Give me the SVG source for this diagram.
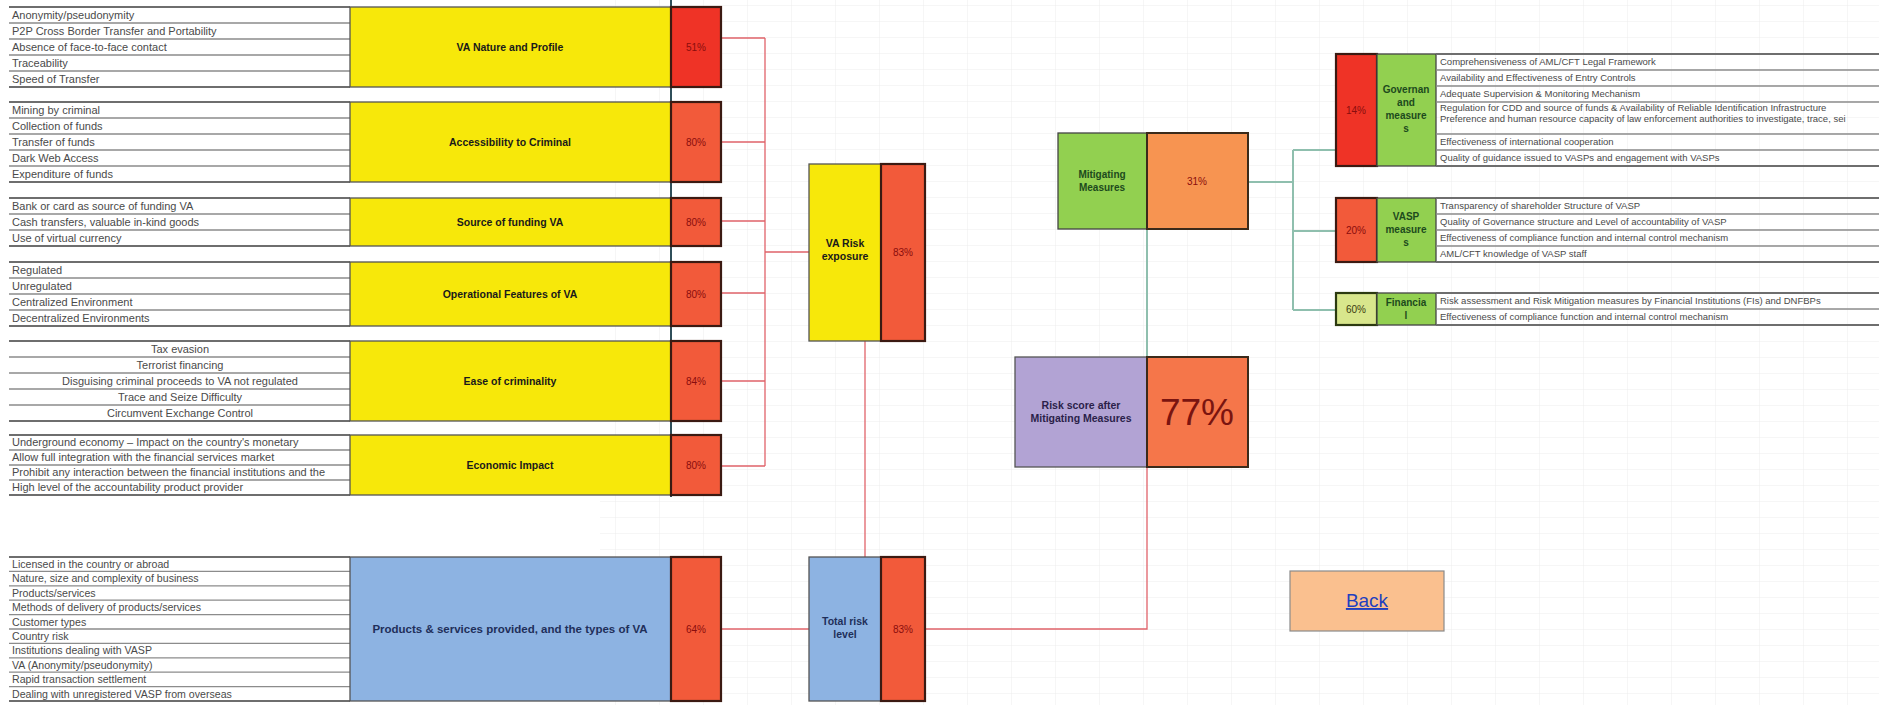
<svg xmlns="http://www.w3.org/2000/svg" width="1879" height="705" viewBox="0 0 1879 705">
  <defs>
    <!-- faint worksheet cell grid -->
    <pattern id="cells" x="0" y="6" width="44" height="16" patternUnits="userSpaceOnUse">
      <path d="M44 0V16M0 16H44" fill="none" stroke="#ececec" stroke-width="1"/>
    </pattern>
    <style>
      .lst { font-family: "Liberation Sans", Arial, sans-serif; font-size: 11px; fill: #4a4a4a; }
      .lsts { font-family: "Liberation Sans", Arial, sans-serif; font-size: 10.6px; fill: #4a4a4a; }
      .rt { font-family: "Liberation Sans", Arial, sans-serif; font-size: 9.5px; fill: #4a4a4a; }
      .row { stroke: #8c8c8c; stroke-width: 1.3; }
      .edge { stroke: #6e6e6e; stroke-width: 2; }
      .cat { font-family: "Liberation Sans", Arial, sans-serif; font-size: 10.5px; font-weight: bold; fill: #1a1a1a; text-anchor: middle; }
      .catb { font-family: "Liberation Sans", Arial, sans-serif; font-size: 10.5px; font-weight: bold; fill: #1f2f5a; text-anchor: middle; }
      .big { font-size: 11.5px; }
      .pct { font-family: "Liberation Sans", Arial, sans-serif; font-size: 10px; fill: #8a0d0d; text-anchor: middle; }
      .yel { fill: #f7e80a; stroke: #555; stroke-width: 1.3; }
      .blu { fill: #8db3e2; stroke: #555; stroke-width: 1.3; }
      .grn { fill: #92d050; stroke: #444; stroke-width: 1.3; }
      .red { fill: #f25a3a; stroke: #3b1a12; stroke-width: 2.2; }
      .red1 { fill: #ef3326; stroke: #3b1a12; stroke-width: 2.2; }
      .org { fill: #f79451; stroke: #3b2a1a; stroke-width: 2; }
      .org2 { fill: #f5764a; stroke: #3b2a1a; stroke-width: 2; }
      .pur { fill: #b2a3d4; stroke: #555; stroke-width: 1.3; }
      .gtx { font-family: "Liberation Sans", Arial, sans-serif; font-size: 10px; font-weight: bold; fill: #1d4a1d; text-anchor: middle; }
      .rl { fill: none; stroke: #e0636a; stroke-width: 1.3; }
      .gl { fill: none; stroke: #8fbfae; stroke-width: 2; }
    </style>
  </defs>

  <rect width="1879" height="705" fill="#ffffff"/>
  <rect x="600" y="0" width="1279" height="705" fill="url(#cells)"/>

  <!-- dark column border beside the category cells -->
  <line x1="671" y1="0" x2="671" y2="497" stroke="#2f4f5a" stroke-width="2"/>

  <!-- connectors -->
  <g id="connectors">
    <path class="rl" d="M721 38H765M721 142H765M721 221H765M721 293H765M721 381H765M721 466H765M765 38V466M765 252H809"/>
    <path class="rl" d="M865 341V557"/>
    <path class="rl" d="M721 629H809"/>
    <path class="rl" d="M925 629H1147V467"/>
    <path class="gl" d="M1147 229V357"/>
    <path class="gl" d="M1248 182H1293M1293 150V310M1293 150H1336M1293 231H1336M1293 310H1336"/>
  </g>

  <!-- factor lists on the left -->
  <g id="list-nature">
    <path class="edge" d="M9 7H350M9 87H350"/>
    <path class="row" d="M9 23H350M9 39H350M9 55H350M9 71H350"/>
    <text class="lst" x="12" y="19">Anonymity/pseudonymity</text>
    <text class="lst" x="12" y="35">P2P Cross Border Transfer and Portability</text>
    <text class="lst" x="12" y="51">Absence of face-to-face contact</text>
    <text class="lst" x="12" y="67">Traceability</text>
    <text class="lst" x="12" y="83">Speed of Transfer</text>
  </g>
  <g id="list-access">
    <path class="edge" d="M9 102H350M9 182H350"/>
    <path class="row" d="M9 118H350M9 134H350M9 150H350M9 166H350"/>
    <text class="lst" x="12" y="114">Mining by criminal</text>
    <text class="lst" x="12" y="130">Collection of funds</text>
    <text class="lst" x="12" y="146">Transfer of funds</text>
    <text class="lst" x="12" y="162">Dark Web Access</text>
    <text class="lst" x="12" y="178">Expenditure of funds</text>
  </g>
  <g id="list-funding">
    <path class="edge" d="M9 198H350M9 246H350"/>
    <path class="row" d="M9 214H350M9 230H350"/>
    <text class="lst" x="12" y="210">Bank or card as source of funding VA</text>
    <text class="lst" x="12" y="226">Cash transfers, valuable in-kind goods</text>
    <text class="lst" x="12" y="242">Use of virtual currency</text>
  </g>
  <g id="list-operational">
    <path class="edge" d="M9 262H350M9 326H350"/>
    <path class="row" d="M9 278H350M9 294H350M9 310H350"/>
    <text class="lst" x="12" y="274">Regulated</text>
    <text class="lst" x="12" y="290">Unregulated</text>
    <text class="lst" x="12" y="306">Centralized Environment</text>
    <text class="lst" x="12" y="322">Decentralized Environments</text>
  </g>
  <g id="list-criminality">
    <path class="edge" d="M9 341H350M9 421H350"/>
    <path class="row" d="M9 357H350M9 373H350M9 389H350M9 405H350"/>
    <g text-anchor="middle">
      <text class="lst" x="180" y="353">Tax evasion</text>
      <text class="lst" x="180" y="369">Terrorist financing</text>
      <text class="lst" x="180" y="385">Disguising criminal proceeds to VA not regulated</text>
      <text class="lst" x="180" y="401">Trace and Seize Difficulty</text>
      <text class="lst" x="180" y="417">Circumvent Exchange Control</text>
    </g>
  </g>
  <g id="list-economic">
    <path class="edge" d="M9 435H350M9 495H350"/>
    <path class="row" d="M9 450H350M9 465H350M9 480H350"/>
    <text class="lst" x="12" y="446">Underground economy – Impact on the country's monetary</text>
    <text class="lst" x="12" y="461">Allow full integration with the financial services market</text>
    <text class="lst" x="12" y="476">Prohibit any interaction between the financial institutions and the</text>
    <text class="lst" x="12" y="491">High level of the accountability product provider</text>
  </g>
  <g id="list-products">
    <path class="edge" d="M9 557H350M9 701H350"/>
    <path class="row" d="M9 571.4H350M9 585.8H350M9 600.2H350M9 614.6H350M9 629H350M9 643.4H350M9 657.8H350M9 672.2H350M9 686.6H350"/>
    <text class="lsts" x="12" y="568">Licensed in the country or abroad</text>
    <text class="lsts" x="12" y="582.4">Nature, size and complexity of business</text>
    <text class="lsts" x="12" y="596.8">Products/services</text>
    <text class="lsts" x="12" y="611.2">Methods of delivery of products/services</text>
    <text class="lsts" x="12" y="625.6">Customer types</text>
    <text class="lsts" x="12" y="640">Country risk</text>
    <text class="lsts" x="12" y="654.4">Institutions dealing with VASP</text>
    <text class="lsts" x="12" y="668.8">VA (Anonymity/pseudonymity)</text>
    <text class="lsts" x="12" y="683.2">Rapid transaction settlement</text>
    <text class="lsts" x="12" y="697.6">Dealing with unregistered VASP from overseas</text>
  </g>

  <!-- category cells with their scores -->
  <g id="cat-nature">
    <rect class="yel" x="350" y="7" width="321" height="80"/>
    <rect class="red1" x="671" y="7" width="50" height="80"/>
    <text class="cat" x="510" y="51">VA Nature and Profile</text>
    <text class="pct" x="696" y="51">51%</text>
  </g>
  <g id="cat-access">
    <rect class="yel" x="350" y="102" width="321" height="80"/>
    <rect class="red" x="671" y="102" width="50" height="80"/>
    <text class="cat" x="510" y="146">Accessibility to Criminal</text>
    <text class="pct" x="696" y="146">80%</text>
  </g>
  <g id="cat-funding">
    <rect class="yel" x="350" y="198" width="321" height="48"/>
    <rect class="red" x="671" y="198" width="50" height="48"/>
    <text class="cat" x="510" y="226">Source of funding VA</text>
    <text class="pct" x="696" y="226">80%</text>
  </g>
  <g id="cat-operational">
    <rect class="yel" x="350" y="262" width="321" height="64"/>
    <rect class="red" x="671" y="262" width="50" height="64"/>
    <text class="cat" x="510" y="298">Operational Features of VA</text>
    <text class="pct" x="696" y="298">80%</text>
  </g>
  <g id="cat-criminality">
    <rect class="yel" x="350" y="341" width="321" height="80"/>
    <rect class="red" x="671" y="341" width="50" height="80"/>
    <text class="cat" x="510" y="385">Ease of criminality</text>
    <text class="pct" x="696" y="385">84%</text>
  </g>
  <g id="cat-economic">
    <rect class="yel" x="350" y="435" width="321" height="60"/>
    <rect class="red" x="671" y="435" width="50" height="60"/>
    <text class="cat" x="510" y="469">Economic Impact</text>
    <text class="pct" x="696" y="469">80%</text>
  </g>
  <g id="cat-products">
    <rect class="blu" x="350" y="557" width="321" height="144"/>
    <rect class="red" x="671" y="557" width="50" height="144"/>
    <text class="catb big" x="510" y="633">Products &amp; services provided, and the types of VA</text>
    <text class="pct" x="696" y="633">64%</text>
  </g>

  <!-- aggregate scores -->
  <g id="va-risk-exposure">
    <rect class="yel" x="809" y="164" width="72" height="177"/>
    <rect class="red" x="881" y="164" width="44" height="177"/>
    <text class="cat" x="845" y="247">VA Risk</text>
    <text class="cat" x="845" y="260">exposure</text>
    <text class="pct" x="903" y="256">83%</text>
  </g>
  <g id="total-risk-level">
    <rect class="blu" x="809" y="557" width="72" height="144"/>
    <rect class="red" x="881" y="557" width="44" height="144"/>
    <text class="catb" x="845" y="625">Total risk</text>
    <text class="catb" x="845" y="638">level</text>
    <text class="pct" x="903" y="633">83%</text>
  </g>
  <g id="mitigating-measures">
    <rect class="grn" x="1058" y="133" width="89" height="96"/>
    <rect class="org" x="1147" y="133" width="101" height="96"/>
    <text class="gtx" x="1102" y="178">Mitigating</text>
    <text class="gtx" x="1102" y="191">Measures</text>
    <text class="pct" x="1197" y="185">31%</text>
  </g>
  <g id="risk-after-mitigation">
    <rect class="pur" x="1015" y="357" width="132" height="110"/>
    <rect class="org2" x="1147" y="357" width="101" height="110"/>
    <text class="cat" style="fill:#2b1f4a" x="1081" y="409">Risk score after</text>
    <text class="cat" style="fill:#2b1f4a" x="1081" y="422">Mitigating Measures</text>
    <text x="1197" y="425" font-family="Liberation Sans, Arial, sans-serif" font-size="37" fill="#7a1410" text-anchor="middle">77%</text>
  </g>

  <!-- mitigating measure groups -->
  <g id="governance">
    <rect class="red1" x="1336" y="54" width="41" height="112"/>
    <rect class="grn" x="1377" y="54" width="59" height="112"/>
    <text class="pct" x="1356" y="114">14%</text>
    <text class="gtx" x="1406" y="93">Governan</text>
    <text class="gtx" x="1406" y="106">and</text>
    <text class="gtx" x="1406" y="119">measure</text>
    <text class="gtx" x="1406" y="132">s</text>
    <path class="edge" d="M1436 54H1879M1436 166H1879"/>
    <path class="row" d="M1436 70H1879M1436 86H1879M1436 102H1879M1436 134H1879M1436 150H1879"/>
    <text class="rt" x="1440" y="65">Comprehensiveness of AML/CFT Legal Framework</text>
    <text class="rt" x="1440" y="81">Availability and Effectiveness of Entry Controls</text>
    <text class="rt" x="1440" y="97">Adequate Supervision &amp; Monitoring Mechanism</text>
    <text class="rt" x="1440" y="111">Regulation for CDD and source of funds &amp; Availability of Reliable Identification Infrastructure</text>
    <text class="rt" x="1440" y="122">Preference and human resource capacity of law enforcement authorities to investigate, trace, sei</text>
    <text class="rt" x="1440" y="145">Effectiveness of international cooperation</text>
    <text class="rt" x="1440" y="161">Quality of guidance issued to VASPs and engagement with VASPs</text>
  </g>
  <g id="vasp">
    <rect class="red" x="1336" y="198" width="41" height="64"/>
    <rect class="grn" x="1377" y="198" width="59" height="64"/>
    <text class="pct" x="1356" y="234">20%</text>
    <text class="gtx" x="1406" y="220">VASP</text>
    <text class="gtx" x="1406" y="233">measure</text>
    <text class="gtx" x="1406" y="246">s</text>
    <path class="edge" d="M1436 198H1879M1436 262H1879"/>
    <path class="row" d="M1436 214H1879M1436 230H1879M1436 246H1879"/>
    <text class="rt" x="1440" y="209">Transparency of shareholder Structure of VASP</text>
    <text class="rt" x="1440" y="225">Quality of Governance structure and Level of accountability of VASP</text>
    <text class="rt" x="1440" y="241">Effectiveness of compliance function and internal control mechanism</text>
    <text class="rt" x="1440" y="257">AML/CFT knowledge of VASP staff</text>
  </g>
  <g id="financial">
    <rect fill="#d8e68c" stroke="#2c3a10" stroke-width="2.2" x="1336" y="293" width="41" height="32"/>
    <rect class="grn" x="1377" y="293" width="59" height="32"/>
    <text class="pct" style="fill:#3a3a10" x="1356" y="313">60%</text>
    <text class="gtx" x="1406" y="306">Financia</text>
    <text class="gtx" x="1406" y="319">l</text>
    <path class="edge" d="M1436 293H1879M1436 325H1879"/>
    <path class="row" d="M1436 309H1879"/>
    <text class="rt" x="1440" y="304">Risk assessment and Risk Mitigation measures by Financial Institutions (FIs) and DNFBPs</text>
    <text class="rt" x="1440" y="320">Effectiveness of compliance function and internal control mechanism</text>
  </g>

  <!-- navigation button -->
  <g id="back-button">
    <rect x="1290" y="571" width="154" height="60" fill="#fac08f" stroke="#8a8a8a" stroke-width="1.2"/>
    <text x="1367" y="607" font-family="Liberation Sans, Arial, sans-serif" font-size="19" fill="#1f3fbf" text-anchor="middle" text-decoration="underline">Back</text>
  </g>
</svg>
